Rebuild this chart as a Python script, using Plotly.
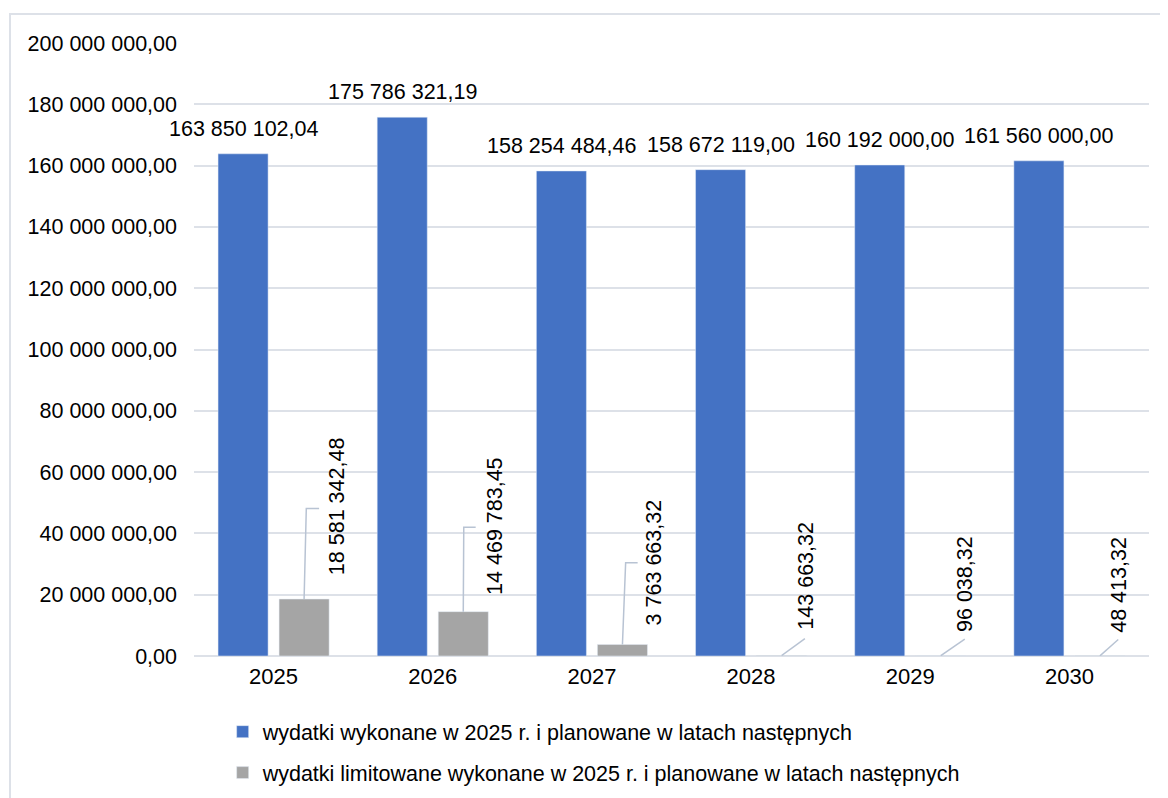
import plotly.graph_objects as go

# ---------------- data ----------------
years = ["2025", "2026", "2027", "2028", "2029", "2030"]
spent_planned = [163850102.04, 175786321.19, 158254484.46, 158672119.00, 160192000.00, 161560000.00]
spent_limited = [18581342.48, 14469783.45, 3763663.32, 143663.32, 96038.32, 48413.32]
name_planned = "wydatki wykonane w 2025 r. i planowane w latach następnych"
name_limited = "wydatki limitowane wykonane w 2025 r. i planowane w latach następnych"
y_max = 200_000_000
y_step = 20_000_000


def pl(v):
    return f"{v:,.2f}".replace(",", " ").replace(".", ",")


# ---------------- style ----------------
FONT = "Liberation Sans, Arial, sans-serif"
FS = 21.5
BLUE = "#4472c4"
GRAY = "#a5a5a5"
GRID = "#dde1e8"
LEADER = "#b8c3d3"
BARGAP = 0.233
GROUPGAP = 0.18
slot = (1 - BARGAP) / 2
off = slot / 2  # offset of each bar centre from the category centre
BODY = 8  # default page margin around the plot div

W, H = 1168 - BODY, 798 - BODY
ML, MT, MR, MB = 194 - BODY, 43 - BODY, 19, 142
PW, PH = W - ML - MR, H - MT - MB

# pixel offsets of the rotated labels of the grey series (manually placed in source)
lab_shift = [(32.5, 92.5), (31.5, 85.5), (32.5, 82), (23.5, 80), (24, 71.5), (19.5, 71.5)]
# leader lines (pixel paths relative to top of grey bar)
leaders = [
    "M0,0 L2.2,90.6 L15,90.6",
    "M0,0 L0.5,84.3 L12.4,84.3",
    "M0,0 L3.2,81.8 L15.2,81.8",
    "M0,0 L23.3,17",
    "M0,0 L24,16.7",
    "M0,0 L18.3,16.3",
]

fig = go.Figure()
fig.add_trace(go.Bar(x=years, y=spent_planned, name=name_planned, marker_color=BLUE,
                     legendgroup="a", hoverinfo="skip"))
fig.add_trace(go.Bar(x=years, y=spent_limited, name=name_limited, marker_color=GRAY,
                     legendgroup="b", hoverinfo="skip"))

annotations = []
shapes = []
for i, (a, b) in enumerate(zip(spent_planned, spent_limited)):
    annotations.append(dict(x=i - off, y=a, xref="x", yref="y", text=pl(a), showarrow=False,
                            xanchor="center", yanchor="bottom", yshift=11,
                            font=dict(family=FONT, size=FS, color="#000000")))
    dx, dy = lab_shift[i]
    annotations.append(dict(x=i + off, y=b, xref="x", yref="y", text=pl(b), showarrow=False,
                            textangle=-90, xanchor="center", yanchor="middle",
                            xshift=dx, yshift=dy,
                            font=dict(family=FONT, size=FS, color="#000000")))
    shapes.append(dict(type="path", xref="x", yref="y", xsizemode="pixel", ysizemode="pixel",
                       xanchor=i + off, yanchor=b, path=leaders[i],
                       line=dict(color=LEADER, width=1.5), layer="above"))

# outer chart border (left & top edges visible, the rest is cut by the frame)
shapes.append(dict(type="rect", xref="paper", yref="paper",
                   x0=(10 - BODY - ML) / PW, x1=1.2, y0=-0.4, y1=1 + (MT - (14 - BODY)) / PH,
                   line=dict(color=GRID, width=2), fillcolor="rgba(0,0,0,0)", layer="below"))

fig.update_layout(
    width=W, height=H,
    margin=dict(l=ML, r=MR, t=MT, b=MB, autoexpand=False),
    paper_bgcolor="white", plot_bgcolor="white",
    font=dict(family=FONT, size=FS, color="#000000"),
    separators=", ",
    barmode="group", bargap=BARGAP, bargroupgap=GROUPGAP,
    showlegend=True,
    legend=dict(orientation="v", x=0.03, xanchor="left", y=-0.09, yanchor="top",
                font=dict(family=FONT, size=FS, color="#000000"),
                traceorder="grouped", tracegroupgap=10,
                bgcolor="rgba(0,0,0,0)"),
    annotations=annotations,
    shapes=shapes,
)
fig.update_xaxes(type="category", range=[-0.5, len(years) - 0.5], autorange=False,
                 showgrid=False, showline=False, ticks="",
                 tickfont=dict(family=FONT, size=FS + 0.5), ticklabelstandoff=5)
fig.update_yaxes(range=[0, y_max], autorange=False, dtick=y_step, tick0=0, tickformat=",.2f",
                 showgrid=True, gridcolor=GRID, gridwidth=1.5,
                 zeroline=True, zerolinecolor=GRID, zerolinewidth=1.5,
                 showline=False, ticks="", ticklabelstandoff=16,
                 tickfont=dict(family=FONT, size=FS))

fig.write_html("out.html")
